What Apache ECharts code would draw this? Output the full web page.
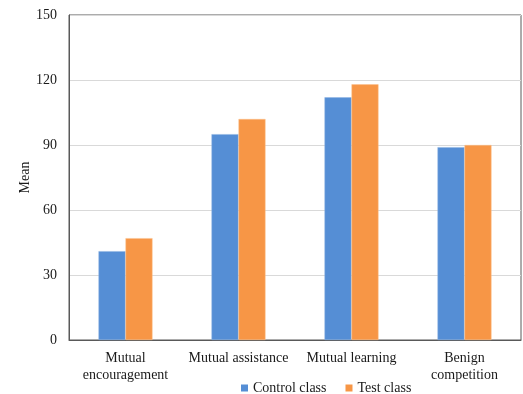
<!DOCTYPE html>
<html>
<head>
<meta charset="utf-8">
<script src="https://cdn.jsdelivr.net/npm/echarts@6/dist/echarts.min.js"></script>
<style>
  html, body { margin: 0; padding: 0; background: #fff; }
  #chart { width: 523px; height: 394px; }
</style>
</head>
<body>
<div id="chart"></div>
<script>
// Mean scores per cooperation dimension, control vs test class
const categories = ['Mutual\nencouragement', 'Mutual assistance', 'Mutual learning', 'Benign\ncompetition'];
const controlClass = [41, 95, 112, 89];
const testClass = [47, 102, 118, 90];
const yTicks = { min: 0, max: 150, interval: 30 };

const FONT = '"Liberation Serif", "Times New Roman", serif';
const TEXT = '#1a1a1a';

const chart = echarts.init(document.getElementById('chart'), null, { renderer: 'canvas' });
chart.setOption({
  animation: false,
  backgroundColor: '#ffffff',
  textStyle: { fontFamily: FONT },
  grid: {
    left: 69, right: 2, top: 15, bottom: 54,
    show: true, borderColor: '#595959', borderWidth: 1, backgroundColor: 'transparent'
  },
  legend: {
    data: ['Control class', 'Test class'],
    left: 241, top: 381,
    padding: 0,
    itemWidth: 7, itemHeight: 7, itemGap: 19,
    icon: 'rect',
    itemStyle: { borderWidth: 0 },
    textStyle: { fontFamily: FONT, fontSize: 14, color: TEXT }
  },
  xAxis: {
    type: 'category',
    data: categories,
    axisLine: { show: true, lineStyle: { color: '#595959', width: 1 } },
    axisTick: { show: false },
    axisLabel: {
      fontFamily: FONT, fontSize: 14, color: TEXT,
      margin: 10, lineHeight: 17, interval: 0
    }
  },
  yAxis: {
    type: 'value',
    min: yTicks.min, max: yTicks.max, interval: yTicks.interval,
    name: 'Mean',
    nameLocation: 'middle',
    nameGap: 37,
    nameMoveOverlap: false,
    nameRotate: 90,
    nameTextStyle: { fontFamily: FONT, fontSize: 14, color: TEXT },
    axisLine: { show: true, lineStyle: { color: '#595959', width: 1 } },
    axisTick: { show: false },
    axisLabel: { fontFamily: FONT, fontSize: 14, color: TEXT, margin: 12 },
    splitLine: { show: true, lineStyle: { color: '#d9d9d9', width: 1 } }
  },
  series: [
    {
      name: 'Control class', type: 'bar', data: controlClass,
      barWidth: 27, barGap: '0%',
      itemStyle: { color: '#558ed5', borderColor: '#8fb4e3', borderWidth: 0.5 }
    },
    {
      name: 'Test class', type: 'bar', data: testClass,
      barWidth: 27,
      itemStyle: { color: '#f79646', borderColor: '#fbc08f', borderWidth: 0.5 }
    }
  ]
});
</script>
</body>
</html>
